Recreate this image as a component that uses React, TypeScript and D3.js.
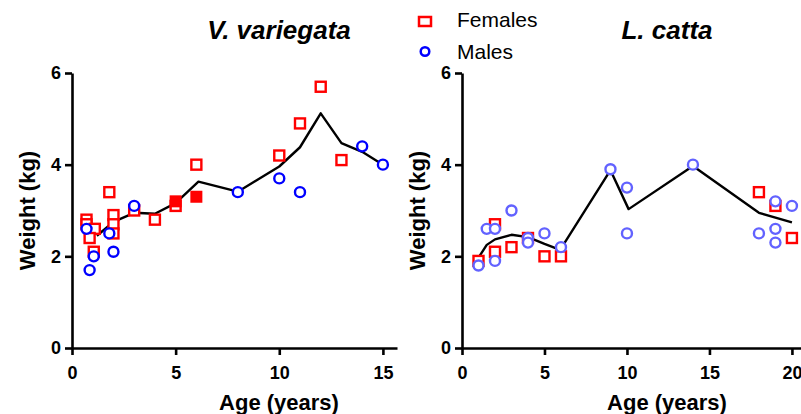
import React, { useEffect, useRef } from 'react';
import * as d3 from 'd3';

// V. variegata
const vvFemales = [[0.7, 2.8], [0.7, 2.7], [1.1, 2.6], [0.85, 2.4], [1.05, 2.1], [1.8, 3.4], [2, 2.9], [2, 2.7], [2, 2.5], [3, 3.0], [4, 2.8], [5, 3.1], [6, 4.0], [10, 4.2], [11, 4.9], [12, 5.7], [13, 4.1]];
const vvFemalesFilled = [[5, 3.2], [6, 3.3]];
const vvMales = [[0.7, 2.6], [0.85, 1.7], [1.05, 2.0], [1.8, 2.5], [2, 2.1], [3, 3.1], [8, 3.4], [10, 3.7], [11, 3.4], [14, 4.4], [15, 4.0]];
const vvFit = [[1.2, 2.45], [2, 2.75], [3, 2.95], [4, 2.93], [5, 3.16], [6.1, 3.63], [8, 3.41], [10, 3.96], [11, 4.38], [12, 5.12], [13, 4.47], [14, 4.28], [15, 4.0]];

// L. catta
const lcFemales = [[1, 1.9], [2, 2.7], [2, 2.1], [3, 2.2], [4, 2.4], [5, 2.0], [6, 2.0], [18, 3.4], [19, 3.1], [20, 2.4]];
const lcMales = [[1, 1.8], [1.5, 2.6], [2, 2.6], [2, 1.9], [3, 3.0], [4, 2.4], [4, 2.3], [5, 2.5], [6, 2.2], [9, 3.9], [10, 3.5], [10, 2.5], [14, 4.0], [18, 2.5], [19, 3.2], [19, 2.6], [19, 2.3], [20, 3.1]];
const lcFit = [[1.05, 2.0], [1.5, 2.25], [2, 2.37], [3, 2.47], [4, 2.42], [5, 2.27], [5.95, 2.14], [9, 3.88], [10.1, 3.03], [14, 3.97], [18, 2.95], [20, 2.74]];

const yTicks = [0, 2, 4, 6];
const vvXTicks = [0, 5, 10, 15];
const lcXTicks = [0, 5, 10, 15, 20];

const FONT = '"Liberation Sans", Arial, sans-serif';

export default function App() {
  const ref = useRef<SVGSVGElement>(null);

  useEffect(() => {
    const svg = d3.select(ref.current);
    svg.selectAll('*').remove();

    const y = d3.scaleLinear().domain([0, 6]).range([348, 73]);

    const panels = [
      { title: 'V. variegata', fem: vvFemales, filled: vvFemalesFilled, males: vvMales, fit: vvFit,
        x: d3.scaleLinear().domain([0, 15.68]).range([72, 397]), ticks: vvXTicks, center: 279, maleColor: '#0000ff' },
      { title: 'L. catta', fem: lcFemales, filled: [], males: lcMales, fit: lcFit,
        x: d3.scaleLinear().domain([0, 20.55]).range([462, 801]), ticks: lcXTicks, center: 667, maleColor: '#6262ff' },
    ];

    panels.forEach((p) => {
      const g = svg.append('g');
      const x = p.x;
      const x0 = x.range()[0];

      const yAxis = g.append('g')
        .attr('transform', `translate(${x0},0)`)
        .call(d3.axisLeft(y).tickValues(yTicks).tickFormat(d3.format('d')).tickSize(7).tickSizeOuter(0).tickPadding(4));
      const xAxis = g.append('g')
        .attr('transform', `translate(0,${y(0)})`)
        .call(d3.axisBottom(x).tickValues(p.ticks).tickFormat(d3.format('d')).tickSize(7).tickSizeOuter(0).tickPadding(11));

      [yAxis, xAxis].forEach((a) => {
        a.selectAll('path,line').attr('stroke', '#000').attr('stroke-width', 2.6);
        a.selectAll('text')
          .attr('fill', '#000')
          .style('font-family', FONT)
          .style('font-size', '18px')
          .style('font-weight', 'bold');
      });

      // fit line
      const line = d3.line<number[]>().x((d) => x(d[0])).y((d) => y(d[1]));
      g.append('path')
        .attr('d', line(p.fit))
        .attr('fill', 'none')
        .attr('stroke', '#000')
        .attr('stroke-width', 2.4)
        .attr('stroke-linejoin', 'round');

      // females (open squares)
      g.selectAll('rect.fem')
        .data(p.fem)
        .enter()
        .append('rect')
        .attr('class', 'fem')
        .attr('x', (d) => x(d[0]) - 5)
        .attr('y', (d) => y(d[1]) - 5)
        .attr('width', 10)
        .attr('height', 10)
        .attr('fill', '#fff')
        .attr('stroke', '#ff0000')
        .attr('stroke-width', 2.4);

      // filled females
      g.selectAll('rect.filled')
        .data(p.filled)
        .enter()
        .append('rect')
        .attr('class', 'filled')
        .attr('x', (d) => x(d[0]) - 6)
        .attr('y', (d) => y(d[1]) - 6)
        .attr('width', 12)
        .attr('height', 12)
        .attr('fill', '#ff0000');

      // males (open circles)
      g.selectAll('circle.male')
        .data(p.males)
        .enter()
        .append('circle')
        .attr('class', 'male')
        .attr('cx', (d) => x(d[0]))
        .attr('cy', (d) => y(d[1]))
        .attr('r', 5)
        .attr('fill', '#fff')
        .attr('stroke', p.maleColor)
        .attr('stroke-width', 2.4);

      // titles
      g.append('text')
        .attr('x', p.center)
        .attr('y', 39)
        .attr('text-anchor', 'middle')
        .style('font-family', FONT)
        .style('font-size', '26px')
        .style('font-weight', 'bold')
        .style('font-style', 'italic')
        .text(p.title);

      g.append('text')
        .attr('x', p.center)
        .attr('y', 410)
        .attr('text-anchor', 'middle')
        .style('font-family', FONT)
        .style('font-size', '22px')
        .style('font-weight', 'bold')
        .text('Age (years)');

      g.append('text')
        .attr('transform', `translate(${x0 - 37},${(y(0) + y(6)) / 2}) rotate(-90)`)
        .attr('text-anchor', 'middle')
        .style('font-family', FONT)
        .style('font-size', '22px')
        .style('font-weight', 'bold')
        .text('Weight (kg)');
    });

    // legend
    const lg = svg.append('g');
    lg.append('rect')
      .attr('x', 419).attr('y', 17).attr('width', 12).attr('height', 9)
      .attr('fill', '#fff').attr('stroke', '#ff0000').attr('stroke-width', 2.5);
    lg.append('circle')
      .attr('cx', 425).attr('cy', 51.5).attr('r', 4.3)
      .attr('fill', '#fff').attr('stroke', '#0000ff').attr('stroke-width', 2.5);
    lg.append('text').attr('x', 457).attr('y', 27)
      .style('font-family', FONT).style('font-size', '21px').text('Females');
    lg.append('text').attr('x', 457).attr('y', 59)
      .style('font-family', FONT).style('font-size', '21px').text('Males');
  }, []);

  return (
    <svg ref={ref} width={801} height={414} style={{ position: 'absolute', left: 0, top: 0, background: '#fff' }} />
  );
}
